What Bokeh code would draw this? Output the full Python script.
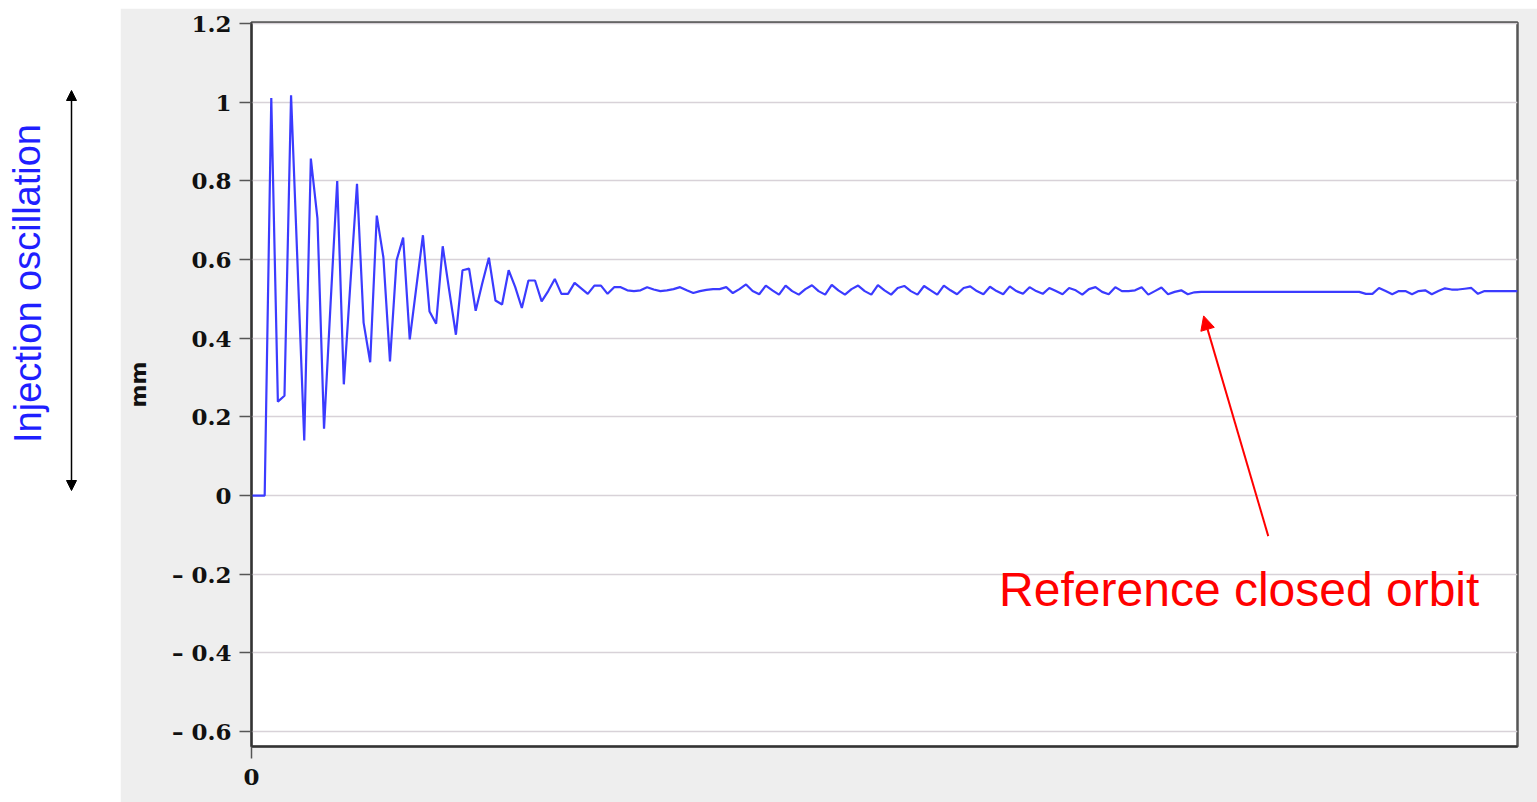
from bokeh.plotting import figure
from bokeh.models import Range1d, FixedTicker, Arrow, NormalHead, Label, Spacer
from bokeh.layouts import row, column
from bokeh.embed import file_html
from bokeh.resources import INLINE

# ---- data: orbit position (mm) per turn ----
turn_values = [
    0.0, 0.0, 0.0, 1.011, 0.239, 0.254, 1.018, 0.58, 0.14, 0.857,
    0.705, 0.17, 0.49, 0.80, 0.283, 0.54, 0.793, 0.44, 0.339, 0.712,
    0.606, 0.341, 0.598, 0.656, 0.397, 0.53, 0.662, 0.468, 0.437, 0.634,
    0.52, 0.409, 0.573, 0.577, 0.47, 0.54, 0.605, 0.496, 0.486, 0.573,
    0.53, 0.477, 0.547, 0.547, 0.494, 0.52, 0.551, 0.513, 0.513, 0.541,
    0.527, 0.513, 0.534, 0.534, 0.513, 0.53, 0.53, 0.522, 0.52, 0.522,
    0.53, 0.524, 0.52, 0.522, 0.525, 0.53, 0.522, 0.515, 0.52, 0.523,
    0.525, 0.525, 0.53, 0.515, 0.525, 0.537, 0.52, 0.512, 0.534, 0.522,
    0.511, 0.534, 0.52, 0.511, 0.525, 0.535, 0.52, 0.511, 0.536, 0.522,
    0.511, 0.525, 0.534, 0.52, 0.511, 0.535, 0.522, 0.511, 0.528, 0.533,
    0.52, 0.511, 0.533, 0.522, 0.511, 0.534, 0.522, 0.512, 0.528, 0.532,
    0.52, 0.512, 0.531, 0.52, 0.512, 0.532, 0.52, 0.513, 0.53, 0.52,
    0.513, 0.528, 0.52, 0.512, 0.528, 0.522, 0.511, 0.525, 0.53, 0.518,
    0.512, 0.53, 0.52, 0.52, 0.522, 0.53, 0.511, 0.52, 0.529, 0.512,
    0.518, 0.522, 0.512, 0.517, 0.518, 0.518, 0.518, 0.518, 0.518, 0.518,
    0.518, 0.518, 0.518, 0.518, 0.518, 0.518, 0.518, 0.518, 0.518, 0.518,
    0.518, 0.518, 0.518, 0.518, 0.518, 0.518, 0.518, 0.518, 0.518, 0.513,
    0.513, 0.528, 0.52, 0.512, 0.52, 0.52, 0.512, 0.52, 0.522, 0.512,
    0.52, 0.527, 0.524, 0.524, 0.526, 0.528, 0.513, 0.52, 0.52, 0.52,
    0.52, 0.52, 0.52,
]
turns = list(range(len(turn_values)))

y_ticks = [-0.6, -0.4, -0.2, 0.0, 0.2, 0.4, 0.6, 0.8, 1.0, 1.2]
y_tick_labels = ["\u2013 0.6", "\u2013 0.4", "\u2013 0.2", "0", "0.2", "0.4", "0.6", "0.8", "1", "1.2"]
x_ticks = [0]
x_tick_labels = ["0"]

GRAY = "#eeeeee"
TICK_FONT = "DejaVu Serif"

# ---- left annotation panel (frame spans page y 22..746, data y == page y) ----
left = figure(width=120, height=802, output_backend="svg", toolbar_location=None,
              x_range=Range1d(0, 120), y_range=Range1d(746, 22),
              min_border_left=0, min_border_right=0,
              min_border_top=22, min_border_bottom=56)
left.axis.visible = False
left.grid.visible = False
left.outline_line_color = None
left.background_fill_color = "white"
left.border_fill_color = "white"
left.add_layout(Label(x=27, y=283, text="Injection oscillation", angle=1.5708,
                      text_align="center", text_baseline="middle",
                      text_color="#1f1fff", text_font="Liberation Sans",
                      text_font_size="38px"))
left.add_layout(Arrow(x_start=71, y_start=90, x_end=71, y_end=490,
                      line_color="black", line_width=1.5,
                      start=NormalHead(size=10, fill_color="black", line_color="black"),
                      end=NormalHead(size=10, fill_color="black", line_color="black")))

# ---- main chart ----
p = figure(width=1417, height=794, output_backend="svg", toolbar_location=None,
           x_range=Range1d(0, 192), y_range=Range1d(-0.638, 1.203),
           min_border_left=131, min_border_right=20, min_border_top=14,
           min_border_bottom=56)
p.background_fill_color = "white"
p.border_fill_color = GRAY
p.outline_line_color = "#555555"
p.outline_line_width = 2.5

p.line(turns, turn_values, line_color="#3b3bff", line_width=2.2)

p.xgrid.visible = False
p.ygrid.ticker = FixedTicker(ticks=y_ticks)
p.ygrid.grid_line_color = "#d8d2d8"
p.ygrid.grid_line_width = 1.5

p.yaxis.ticker = FixedTicker(ticks=y_ticks)
p.yaxis.major_label_overrides = dict(zip(y_ticks, y_tick_labels))
p.xaxis.ticker = FixedTicker(ticks=x_ticks)
p.xaxis.major_label_overrides = dict(zip([float(t) for t in x_ticks], x_tick_labels))

for ax in (p.xaxis[0], p.yaxis[0]):
    ax.axis_line_color = "#333333"
    ax.axis_line_width = 2
    ax.major_tick_line_color = "#555555"
    ax.major_tick_line_width = 1.5
    ax.major_tick_out = 12
    ax.major_tick_in = 0
    ax.minor_tick_line_color = None
    ax.major_label_text_font = TICK_FONT
    ax.major_label_text_font_style = "bold"
    ax.major_label_text_font_size = "23px"
    ax.major_label_text_color = "#111111"
    ax.major_label_standoff = 8

p.xaxis.major_label_standoff = 10

p.yaxis.axis_label = "mm"
p.yaxis.axis_label_text_font = "DejaVu Sans"
p.yaxis.axis_label_text_font_style = "bold"
p.yaxis.axis_label_text_font_size = "22px"
p.yaxis.axis_label_text_color = "#111111"
p.yaxis.axis_label_standoff = 18

p.add_layout(Arrow(x_start=154.2, y_start=-0.103, x_end=144.4, y_end=0.457,
                   line_color="red", line_width=2,
                   end=NormalHead(size=14, fill_color="red", line_color="red")))
p.add_layout(Label(x=149.8, y=-0.24, text="Reference closed orbit",
                   text_align="center", text_baseline="middle",
                   text_color="#ff0000", text_font="Liberation Sans",
                   text_font_size="48px"))

layout = row(left, column(Spacer(width=1417, height=8), p))
open("out.html", "w").write(file_html(layout, INLINE))
